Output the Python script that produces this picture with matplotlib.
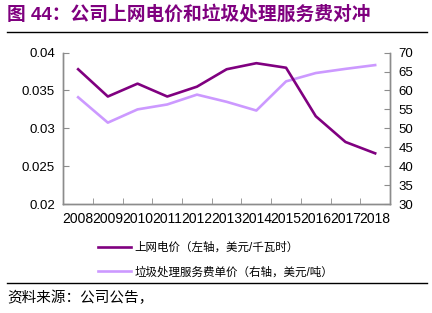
import matplotlib
matplotlib.use("Agg")
import matplotlib.pyplot as plt
from matplotlib.lines import Line2D

plt.rcParams['font.family'] = ['Liberation Sans', 'Noto Sans CJK SC', 'DejaVu Sans']

# ----- Data -----
years = ['2008', '2009', '2010', '2011', '2012', '2013',
         '2014', '2015', '2016', '2017', '2018']
grid_price = [0.0378, 0.0342, 0.0359, 0.0342, 0.0355, 0.0378,
              0.0386, 0.0380, 0.0316, 0.0282, 0.0267]      # USD/kWh, left axis
tipping_fee = [58.2, 51.5, 55.0, 56.3, 58.9, 57.0,
               54.7, 62.4, 64.6, 65.7, 66.7]               # USD/ton, right axis
left_ticks = [0.02, 0.025, 0.03, 0.035, 0.04]
right_ticks = [30, 35, 40, 45, 50, 55, 60, 65, 70]

title = '图 44：公司上网电价和垃圾处理服务费对冲'
label_grid = '上网电价（左轴，美元/千瓦时）'
label_fee = '垃圾处理服务费单价（右轴，美元/吨）'
source = '资料来源：公司公告，'

DARK = '#800080'
LIGHT = '#CC99FF'
GRAY = '#8C8C8C'

# ----- Figure -----
fig = plt.figure(figsize=(4.32, 3.13), dpi=100)
ax = fig.add_axes([0.1465, 0.348, 0.7563, 0.484])
ax2 = ax.twinx()

x = list(range(len(years)))
l1, = ax.plot(x, grid_price, color=DARK, lw=1.9)
l2, = ax2.plot(x, tipping_fee, color=LIGHT, lw=1.9)
ax.set_zorder(ax2.get_zorder() + 1)
ax.patch.set_visible(False)

ax.set_xlim(-0.5, len(years) - 0.5)
ax.set_ylim(0.02, 0.04)
ax2.set_ylim(30, 70)

ax.set_xticks(x)
ax.set_xticklabels(years, fontsize=10)
ax.set_xticks([i - 0.5 for i in range(len(years) + 1)], minor=True)
ax.tick_params(axis='x', which='major', length=0, pad=6)
ax.tick_params(axis='x', which='minor', length=4, direction='in', color=GRAY)

ax.set_yticks(left_ticks)
ax.set_yticklabels(['%g' % v for v in left_ticks], fontsize=9.5)
ax2.set_yticks(right_ticks)
ax2.set_yticklabels([str(v) for v in right_ticks], fontsize=9.5)
ax.tick_params(axis='y', length=4, direction='in', color=GRAY, pad=6)
ax2.tick_params(axis='y', length=4, direction='in', color=GRAY, pad=6)

for a in (ax, ax2):
    a.spines['top'].set_visible(False)
    for s in ('left', 'right', 'bottom'):
        a.spines[s].set_color(GRAY)
        a.spines[s].set_linewidth(1.0)

# ----- Legend -----
fig.legend([l1, l2], [label_grid, label_fee], loc='upper left',
           bbox_to_anchor=(0.228, 0.228), frameon=False, fontsize=8.3,
           handlelength=2.8, handletextpad=0.35, labelspacing=1.1,
           borderaxespad=0, borderpad=0)

# ----- Title, rules and source -----
fig.text(0.017, 0.955, title, fontsize=13.5, fontweight='bold',
         color='#7F007F', va='center', ha='left')
fig.add_artist(Line2D([0.016, 0.988], [0.898, 0.898], color='black', lw=1.0))
fig.add_artist(Line2D([0.016, 0.988], [0.096, 0.096], color='black', lw=1.0))
fig.text(0.017, 0.047, source, fontsize=10.5, va='center', ha='left')

fig.savefig('out.png', dpi=100)
